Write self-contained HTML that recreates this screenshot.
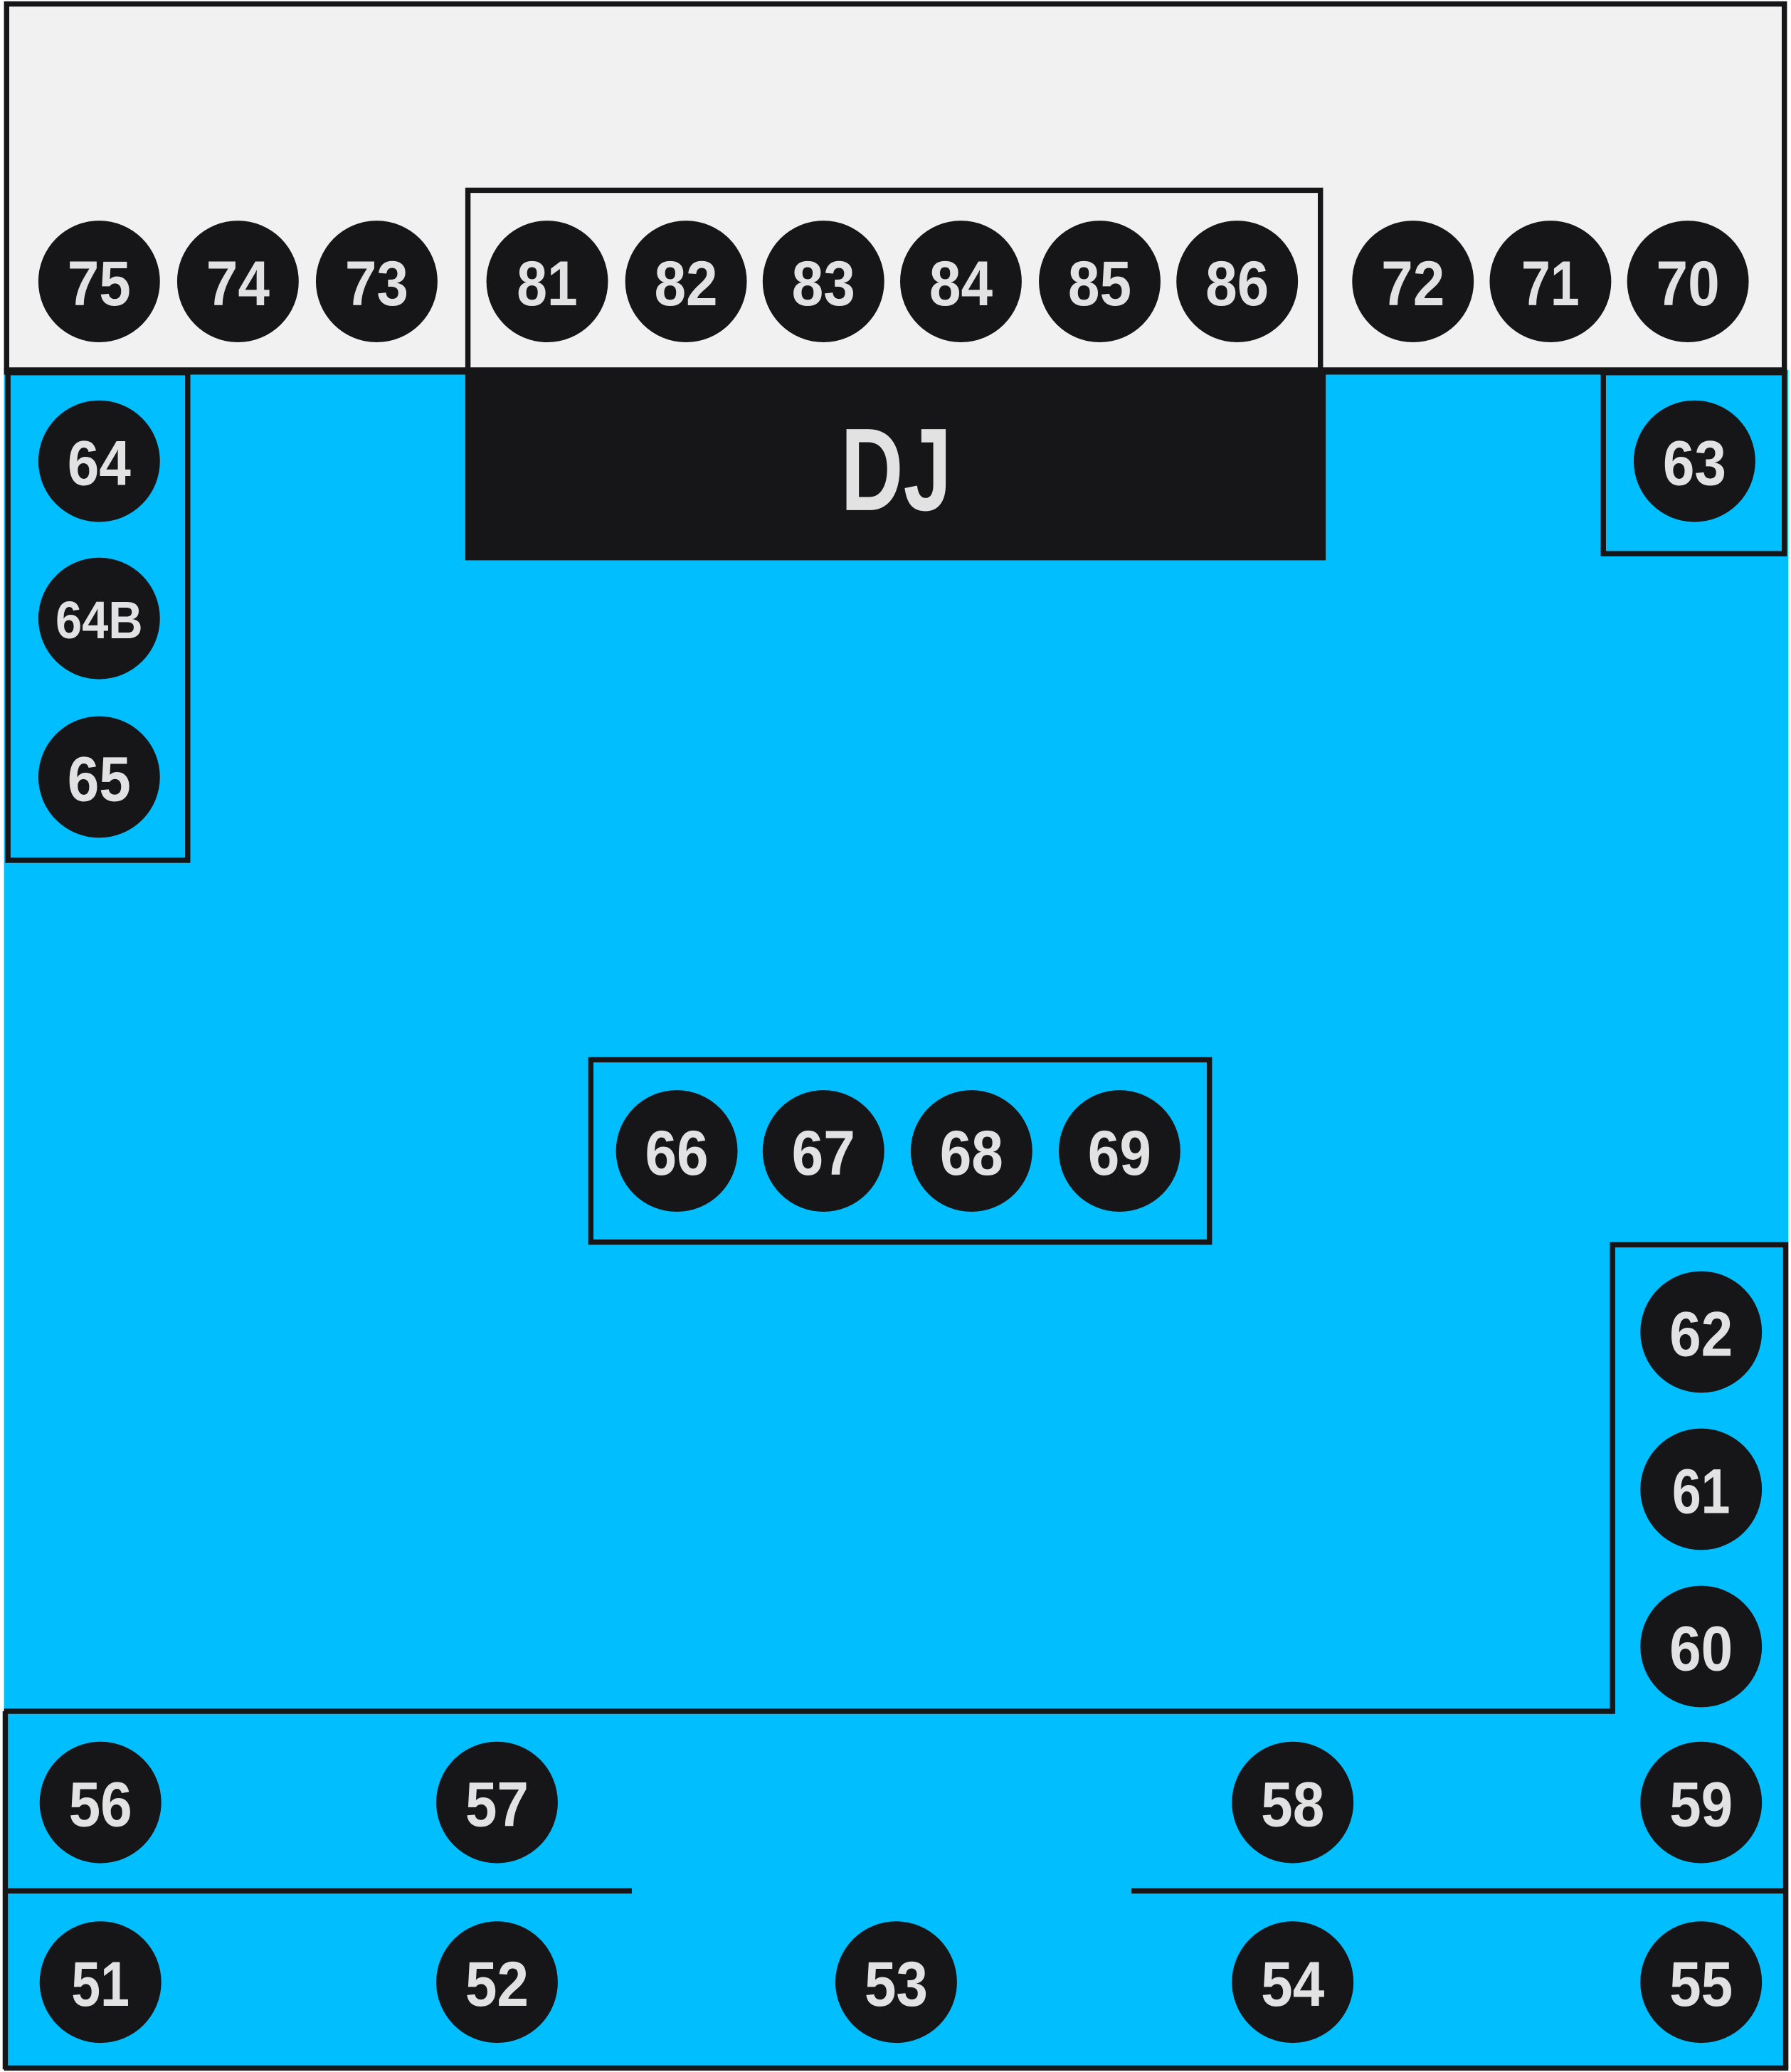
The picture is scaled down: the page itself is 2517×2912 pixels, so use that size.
<!DOCTYPE html>
<html><head><meta charset="utf-8"><style>
html,body{margin:0;padding:0;background:#fff}
svg{display:block}
text{font-family:"Liberation Sans",sans-serif;font-weight:bold;fill:#e2e2e2;text-anchor:middle}
</style></head><body>
<svg width="2517" height="2912" viewBox="0 0 1355 1568" preserveAspectRatio="none" xmlns="http://www.w3.org/2000/svg">
<rect x="0" y="0" width="1355" height="1568" fill="#fff"/>
<rect x="3" y="280" width="1350" height="1286" fill="#01BFFE"/>
<rect x="5" y="3" width="1345" height="277" fill="#f1f1f1" stroke="#161618" stroke-width="4"/>
<rect x="354" y="144" width="645" height="136" fill="#f1f1f1" stroke="#161618" stroke-width="4"/>
<rect x="352" y="280" width="651" height="144" fill="#161618"/>
<text x="678" y="386" font-size="89" textLength="84" lengthAdjust="spacingAndGlyphs">DJ</text>
<line x1="3" y1="281" x2="1352" y2="281" stroke="#161618" stroke-width="5"/>
<g fill="none" stroke="#161618" stroke-width="4">
<rect x="6" y="282" width="136" height="369"/>
<rect x="1213" y="282" width="137" height="137"/>
<rect x="447" y="802" width="468" height="138"/>
<path d="M1220,1297 V942 H1351 V1564"/>
<path d="M3,1295 H1220"/>
<path d="M4,1295 V1566"/>
<path d="M3,1431 H478"/>
<path d="M856,1431 H1351"/>
<path d="M3,1565 H1353"/>
</g>
<g fill="#161618">
<circle cx="75" cy="213" r="46"/><circle cx="180" cy="213" r="46"/><circle cx="285" cy="213" r="46"/>
<circle cx="414" cy="213" r="46"/><circle cx="519" cy="213" r="46"/><circle cx="623" cy="213" r="46"/>
<circle cx="727" cy="213" r="46"/><circle cx="832" cy="213" r="46"/><circle cx="936" cy="213" r="46"/>
<circle cx="1069" cy="213" r="46"/><circle cx="1173" cy="213" r="46"/><circle cx="1277" cy="213" r="46"/>
<circle cx="75" cy="349" r="46"/><circle cx="75" cy="468" r="46"/><circle cx="75" cy="588" r="46"/>
<circle cx="1282" cy="349" r="46"/>
<circle cx="512" cy="871" r="46"/><circle cx="623" cy="871" r="46"/><circle cx="735" cy="871" r="46"/><circle cx="847" cy="871" r="46"/>
<circle cx="1287" cy="1008" r="46"/><circle cx="1287" cy="1127" r="46"/><circle cx="1287" cy="1246" r="46"/>
<circle cx="76" cy="1364" r="46"/><circle cx="376" cy="1364" r="46"/><circle cx="978" cy="1364" r="46"/><circle cx="1287" cy="1364" r="46"/>
<circle cx="76" cy="1500" r="46"/><circle cx="376" cy="1500" r="46"/><circle cx="678" cy="1500" r="46"/><circle cx="978" cy="1500" r="46"/><circle cx="1287" cy="1500" r="46"/>
</g>
<g font-size="48">
<text x="75" y="231" textLength="48" lengthAdjust="spacingAndGlyphs">75</text><text x="180" y="231" textLength="48" lengthAdjust="spacingAndGlyphs">74</text><text x="285" y="231" textLength="48" lengthAdjust="spacingAndGlyphs">73</text>
<text x="414" y="231" textLength="46" lengthAdjust="spacingAndGlyphs">81</text><text x="519" y="231" textLength="48" lengthAdjust="spacingAndGlyphs">82</text><text x="623" y="231" textLength="48" lengthAdjust="spacingAndGlyphs">83</text>
<text x="727" y="231" textLength="48" lengthAdjust="spacingAndGlyphs">84</text><text x="832" y="231" textLength="48" lengthAdjust="spacingAndGlyphs">85</text><text x="936" y="231" textLength="48" lengthAdjust="spacingAndGlyphs">86</text>
<text x="1069" y="231" textLength="48" lengthAdjust="spacingAndGlyphs">72</text><text x="1173" y="231" textLength="44" lengthAdjust="spacingAndGlyphs">71</text><text x="1277" y="231" textLength="48" lengthAdjust="spacingAndGlyphs">70</text>
<text x="75" y="367" textLength="48" lengthAdjust="spacingAndGlyphs">64</text><text x="75" y="483" font-size="40" textLength="66" lengthAdjust="spacingAndGlyphs">64B</text><text x="75" y="606" textLength="48" lengthAdjust="spacingAndGlyphs">65</text>
<text x="1282" y="367" textLength="48" lengthAdjust="spacingAndGlyphs">63</text>
<text x="512" y="889" textLength="48" lengthAdjust="spacingAndGlyphs">66</text><text x="623" y="889" textLength="48" lengthAdjust="spacingAndGlyphs">67</text><text x="735" y="889" textLength="48" lengthAdjust="spacingAndGlyphs">68</text><text x="847" y="889" textLength="48" lengthAdjust="spacingAndGlyphs">69</text>
<text x="1287" y="1026" textLength="48" lengthAdjust="spacingAndGlyphs">62</text><text x="1287" y="1145" textLength="44" lengthAdjust="spacingAndGlyphs">61</text><text x="1287" y="1264" textLength="48" lengthAdjust="spacingAndGlyphs">60</text>
<text x="76" y="1382" textLength="48" lengthAdjust="spacingAndGlyphs">56</text><text x="376" y="1382" textLength="48" lengthAdjust="spacingAndGlyphs">57</text><text x="978" y="1382" textLength="48" lengthAdjust="spacingAndGlyphs">58</text><text x="1287" y="1382" textLength="48" lengthAdjust="spacingAndGlyphs">59</text>
<text x="76" y="1518" textLength="44" lengthAdjust="spacingAndGlyphs">51</text><text x="376" y="1518" textLength="48" lengthAdjust="spacingAndGlyphs">52</text><text x="678" y="1518" textLength="48" lengthAdjust="spacingAndGlyphs">53</text><text x="978" y="1518" textLength="48" lengthAdjust="spacingAndGlyphs">54</text><text x="1287" y="1518" textLength="48" lengthAdjust="spacingAndGlyphs">55</text>
</g>
</svg>
</body></html>
